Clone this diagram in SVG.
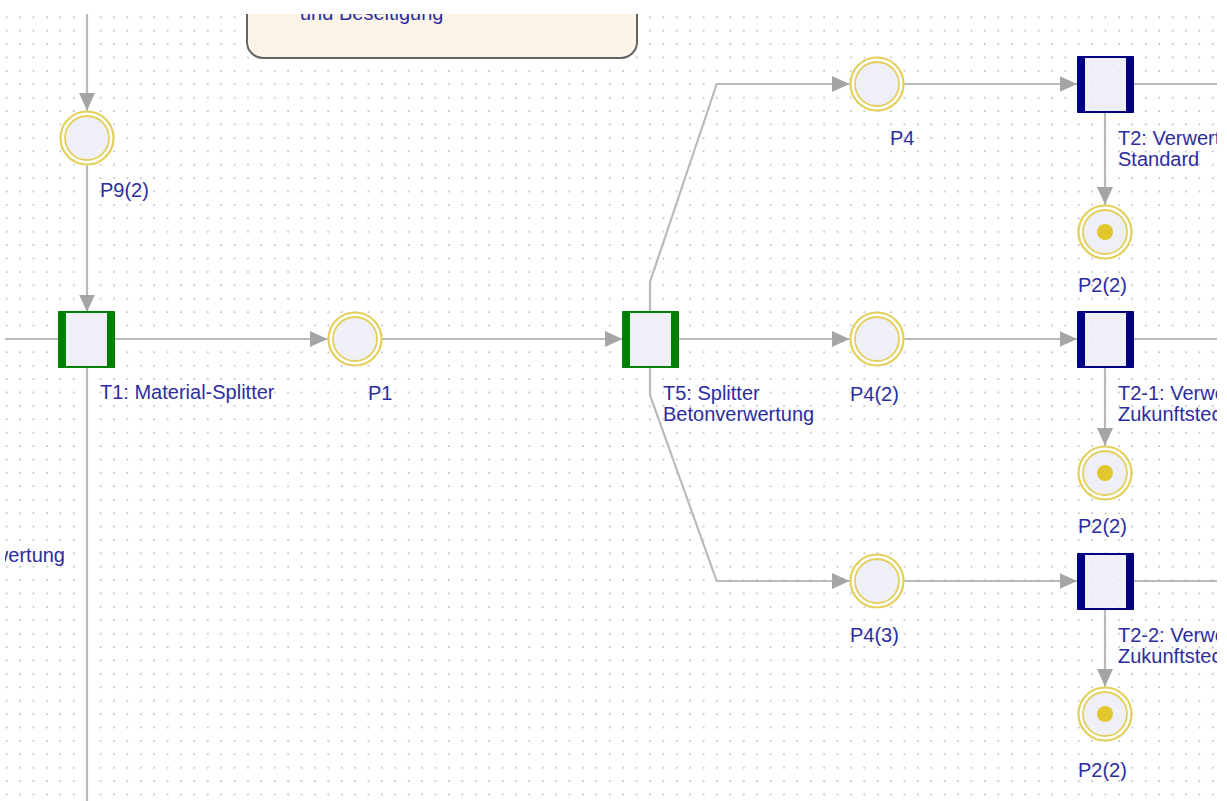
<svg xmlns="http://www.w3.org/2000/svg" width="1227" height="801" viewBox="0 0 1227 801">
<style>
.edge{fill:none;stroke:#bababa;stroke-width:2.2}
.arr{marker-end:url(#ah)}
.lbl{font-family:"Liberation Sans",Arial,sans-serif;font-size:20px;fill:#2d2d9f}
.po{fill:#ffffff;stroke:#e3d05c;stroke-width:2.2}
.pi{fill:#ebebf6;fill-opacity:0.8;stroke:#e3d05c;stroke-width:1.8}
.tok{fill:#e2c72c}
.tb{fill:#ebebf6;fill-opacity:0.8;stroke-width:2}
.tg{stroke:#008000}
.tn{stroke:#000080}
.bg{fill:#008000}
.bn{fill:#000080}
</style>
<defs>
<pattern id="grid" patternUnits="userSpaceOnUse" x="0" y="0" width="13.4" height="13.4">
<rect x="5.9" y="3.1" width="1.7" height="1.7" fill="#bfbfbf"/>
</pattern>
<marker id="ah" markerUnits="userSpaceOnUse" markerWidth="19" markerHeight="17" refX="17.5" refY="8" orient="auto">
<path d="M0,0 L17.5,8 L0,16 Z" fill="#a5a5a5"/>
</marker>
<clipPath id="view"><rect x="5" y="14" width="1212" height="787"/></clipPath>
</defs>
<rect width="1227" height="801" fill="#ffffff"/>
<g clip-path="url(#view)">
<rect x="0" y="0" width="1227" height="801" fill="url(#grid)"/>

<g id="note">
<rect x="247" y="-120" width="390" height="178" rx="16" ry="16" fill="#fcf3e4" fill-opacity="0.9" stroke="#646464" stroke-width="2"/>
<text class="lbl" x="300" y="20">und Beseitigung</text>
</g>

<g id="connectors">
<path class="edge arr" d="M87,10 V110.5"/>
<path class="edge arr" d="M87,166 V312"/>
<path class="edge" d="M0,339 H58.5"/>
<path class="edge" d="M87,367 V805"/>
<path class="edge arr" d="M115,339 H327.5"/>
<path class="edge arr" d="M382.5,339 H622.5"/>
<path class="edge arr" d="M650,312 V282 L716.7,84 H849.5"/>
<path class="edge arr" d="M678.5,339 H849.5"/>
<path class="edge arr" d="M650,367 V395 L716.7,581 H849.5"/>
<path class="edge arr" d="M904.5,84 H1077"/>
<path class="edge arr" d="M904.5,339 H1077"/>
<path class="edge arr" d="M904.5,581 H1077"/>
<path class="edge" d="M1133,84 H1230"/>
<path class="edge" d="M1133,339 H1230"/>
<path class="edge" d="M1133,581 H1230"/>
<path class="edge arr" d="M1105,113 V204.5"/>
<path class="edge arr" d="M1105,367 V445.5"/>
<path class="edge arr" d="M1105,609 V686.5"/>
</g>

<g id="P9_2">
<circle class="po" cx="87" cy="138" r="26.5"/>
<circle class="pi" cx="87" cy="138" r="22"/>
<text class="lbl" x="100" y="197">P9(2)</text>
</g>

<g id="T1">
<rect class="tb tg" x="59" y="312" width="55" height="55" rx="1.5"/>
<rect class="bg" x="58" y="311" width="8" height="57" rx="1"/>
<rect class="bg" x="107" y="311" width="8" height="57" rx="1"/>
<text class="lbl" x="100" y="399">T1: Material-Splitter</text>
</g>

<g id="P1">
<circle class="po" cx="355" cy="339" r="26.5"/>
<circle class="pi" cx="355" cy="339" r="22"/>
<text class="lbl" x="368" y="400">P1</text>
</g>

<g id="T5">
<rect class="tb tg" x="623" y="312" width="55" height="55" rx="1.5"/>
<rect class="bg" x="622" y="311" width="8" height="57" rx="1"/>
<rect class="bg" x="671" y="311" width="8" height="57" rx="1"/>
<text class="lbl" x="663" y="400">T5: Splitter</text>
<text class="lbl" x="663" y="421">Betonverwertung</text>
</g>

<g id="P4">
<circle class="po" cx="877" cy="84" r="26.5"/>
<circle class="pi" cx="877" cy="84" r="22"/>
<text class="lbl" x="890" y="145">P4</text>
</g>

<g id="P4_2">
<circle class="po" cx="877" cy="339" r="26.5"/>
<circle class="pi" cx="877" cy="339" r="22"/>
<text class="lbl" x="850" y="401">P4(2)</text>
</g>

<g id="P4_3">
<circle class="po" cx="877" cy="581" r="26.5"/>
<circle class="pi" cx="877" cy="581" r="22"/>
<text class="lbl" x="850" y="642">P4(3)</text>
</g>

<g id="T2">
<rect class="tb tn" x="1078" y="57" width="55" height="55" rx="1.5"/>
<rect class="bn" x="1077" y="56" width="8" height="57" rx="1"/>
<rect class="bn" x="1126" y="56" width="8" height="57" rx="1"/>
<text class="lbl" x="1118" y="145">T2: Verwert</text>
<text class="lbl" x="1118" y="166">Standard</text>
</g>

<g id="T2_1">
<rect class="tb tn" x="1078" y="312" width="55" height="55" rx="1.5"/>
<rect class="bn" x="1077" y="311" width="8" height="57" rx="1"/>
<rect class="bn" x="1126" y="311" width="8" height="57" rx="1"/>
<text class="lbl" x="1118" y="400">T2-1: Verwe</text>
<text class="lbl" x="1118" y="421">Zukunftstec</text>
</g>

<g id="T2_2">
<rect class="tb tn" x="1078" y="554" width="55" height="55" rx="1.5"/>
<rect class="bn" x="1077" y="553" width="8" height="57" rx="1"/>
<rect class="bn" x="1126" y="553" width="8" height="57" rx="1"/>
<text class="lbl" x="1118" y="642">T2-2: Verwe</text>
<text class="lbl" x="1118" y="663">Zukunftstec</text>
</g>

<g id="P2_2a">
<circle class="po" cx="1105" cy="232" r="26.5"/>
<circle class="pi" cx="1105" cy="232" r="22"/>
<circle class="tok" cx="1105" cy="232" r="8"/>
<text class="lbl" x="1078" y="292">P2(2)</text>
</g>

<g id="P2_2b">
<circle class="po" cx="1105" cy="473" r="26.5"/>
<circle class="pi" cx="1105" cy="473" r="22"/>
<circle class="tok" cx="1105" cy="473" r="8"/>
<text class="lbl" x="1078" y="533">P2(2)</text>
</g>

<g id="P2_2c">
<circle class="po" cx="1105" cy="714" r="26.5"/>
<circle class="pi" cx="1105" cy="714" r="22"/>
<circle class="tok" cx="1105" cy="714" r="8"/>
<text class="lbl" x="1078" y="777">P2(2)</text>
</g>

<g id="left_label">
<text class="lbl" x="65" y="562" text-anchor="end">wertung</text>
</g>
</g>
</svg>
